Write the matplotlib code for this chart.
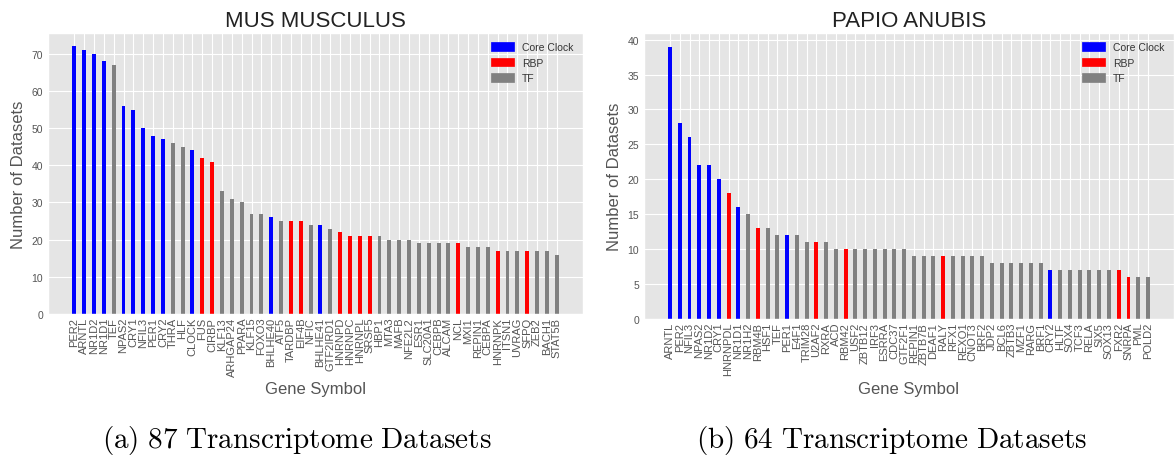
import matplotlib
matplotlib.use('Agg')
import matplotlib.pyplot as plt
from matplotlib.patches import Patch
import numpy as np

# mouse
mm_genes = ['PER2', 'ARNTL', 'NR1D2', 'NR1D1', 'TEF', 'NPAS2', 'CRY1', 'NFIL3', 'PER1', 'CRY2',
            'THRA', 'HLF', 'CLOCK', 'FUS', 'CIRBP', 'KLF13', 'ARHGAP24', 'PPARA', 'KLF15', 'FOXO3',
            'BHLHE40', 'ATF5', 'TARDBP', 'EIF4B', 'NFIC', 'BHLHE41', 'GTF2IRD1', 'HNRNPD', 'HNRNPC', 'HNRNPL',
            'SRSF5', 'HBP1', 'MTA3', 'MAFB', 'NFE2L2', 'ESR1', 'SLC20A1', 'CEBPB', 'ALCAM', 'NCL',
            'MXI1', 'REPIN1', 'CEBPA', 'HNRNPK', 'ITSN1', 'UVRAG', 'SFPQ', 'ZEB2', 'BACH1', 'STAT5B']
mm_counts = [72, 71, 70, 68, 67, 56, 55, 50, 48, 47,
             46, 45, 44, 42, 41, 33, 31, 30, 27, 27,
             26, 25, 25, 25, 24, 24, 23, 22, 21, 21,
             21, 21, 20, 20, 20, 19, 19, 19, 19, 19,
             18, 18, 18, 17, 17, 17, 17, 17, 17, 16]
mm_class = ['C', 'C', 'C', 'C', 'T', 'C', 'C', 'C', 'C', 'C',
            'T', 'T', 'C', 'R', 'R', 'T', 'T', 'T', 'T', 'T',
            'C', 'T', 'R', 'R', 'T', 'C', 'T', 'R', 'R', 'R',
            'R', 'T', 'T', 'T', 'T', 'T', 'T', 'T', 'T', 'R',
            'T', 'T', 'T', 'R', 'T', 'T', 'R', 'T', 'T', 'T']

# baboon
pa_genes = ['ARNTL', 'PER2', 'NFIL3', 'NPAS2', 'NR1D2', 'CRY1', 'HNRNPDL', 'NR1D1', 'NR1H2', 'RBM4B',
            'HSF1', 'TEF', 'PER1', 'E4F1', 'TRIM28', 'U2AF2', 'RXRA', 'ACD', 'RBM42', 'USF2',
            'ZBTB12', 'IRF3', 'ESRRA', 'CDC37', 'GTF2F1', 'REPIN1', 'ZBTB7B', 'DEAF1', 'RALY', 'RFX1',
            'REXO1', 'CNOT3', 'BRF2', 'JDP2', 'BCL6', 'ZBTB3', 'MZF1', 'RARG', 'BRF1', 'CRY2',
            'HLTF', 'SOX4', 'TCF3', 'RELA', 'SIX5', 'SOX13', 'FXR2', 'SNRPA', 'PML', 'POLD2']
pa_counts = [39, 28, 26, 22, 22, 20, 18, 16, 15, 13,
             13, 12, 12, 12, 11, 11, 11, 10, 10, 10,
             10, 10, 10, 10, 10, 9, 9, 9, 9, 9,
             9, 9, 9, 8, 8, 8, 8, 8, 8, 7,
             7, 7, 7, 7, 7, 7, 7, 6, 6, 6]
pa_class = ['C', 'C', 'C', 'C', 'C', 'C', 'R', 'C', 'T', 'R',
            'T', 'T', 'C', 'T', 'T', 'R', 'T', 'T', 'R', 'T',
            'T', 'T', 'T', 'T', 'T', 'T', 'T', 'T', 'R', 'T',
            'T', 'T', 'T', 'T', 'T', 'T', 'T', 'T', 'T', 'C',
            'T', 'T', 'T', 'T', 'T', 'T', 'R', 'R', 'T', 'T']

cmap = {'C': '#0000ff', 'R': '#ff0000', 'T': '#808080'}
legend_labels = ['Core Clock', 'RBP', 'TF']

plt.style.use('ggplot')
plt.rcParams['font.family'] = ['Liberation Sans', 'DejaVu Sans']
plt.rcParams['mathtext.fontset'] = 'cm'

W, H = 1174, 456
fig = plt.figure(figsize=(W / 100, H / 100), dpi=100)
fig.patch.set_facecolor('white')


def px_axes(x0, y0, x1, y1):
    return fig.add_axes([x0 / W, 1 - y1 / H, (x1 - x0) / W, (y1 - y0) / H])


def draw(ax, genes, counts, cls, title):
    x = np.arange(len(genes))
    ax.bar(x, counts, width=0.4, color=[cmap[c] for c in cls])
    ax.set_xticks(x)
    ax.set_xticklabels(genes, rotation=90, fontsize=8, color='#555555')
    ax.tick_params(axis='y', labelsize=7.5, labelcolor='#555555', length=0)
    ax.tick_params(axis='x', length=0, pad=2)
    ax.set_title(title, fontsize=16, color='#222222', pad=5)
    ax.set_xlabel('Gene Symbol', fontsize=12, color='#555555', labelpad=4)
    ax.set_ylabel('Number of Datasets', fontsize=12, color='#555555')
    handles = [Patch(color=cmap[k]) for k in ['C', 'R', 'T']]
    ax.legend(handles, legend_labels, loc='upper right', frameon=False, fontsize=7.5,
              handlelength=2.2, handleheight=0.9, labelcolor='#333333')


ax1 = px_axes(48, 34, 583, 315)
draw(ax1, mm_genes, mm_counts, mm_class, 'MUS MUSCULUS')
ax1.set_yticks(range(0, 71, 10))

ax2 = px_axes(644, 34, 1174, 320)
draw(ax2, pa_genes, pa_counts, pa_class, 'PAPIO ANUBIS')
ax2.set_yticks(range(0, 41, 5))

fig.text(297 / W, 1 - 441 / H, r'$\mathrm{(a)\ 87\ Transcriptome\ Datasets}$',
         ha='center', va='center', fontsize=21)
fig.text(892 / W, 1 - 441 / H, r'$\mathrm{(b)\ 64\ Transcriptome\ Datasets}$',
         ha='center', va='center', fontsize=21)

fig.savefig('out.png', dpi=100)
